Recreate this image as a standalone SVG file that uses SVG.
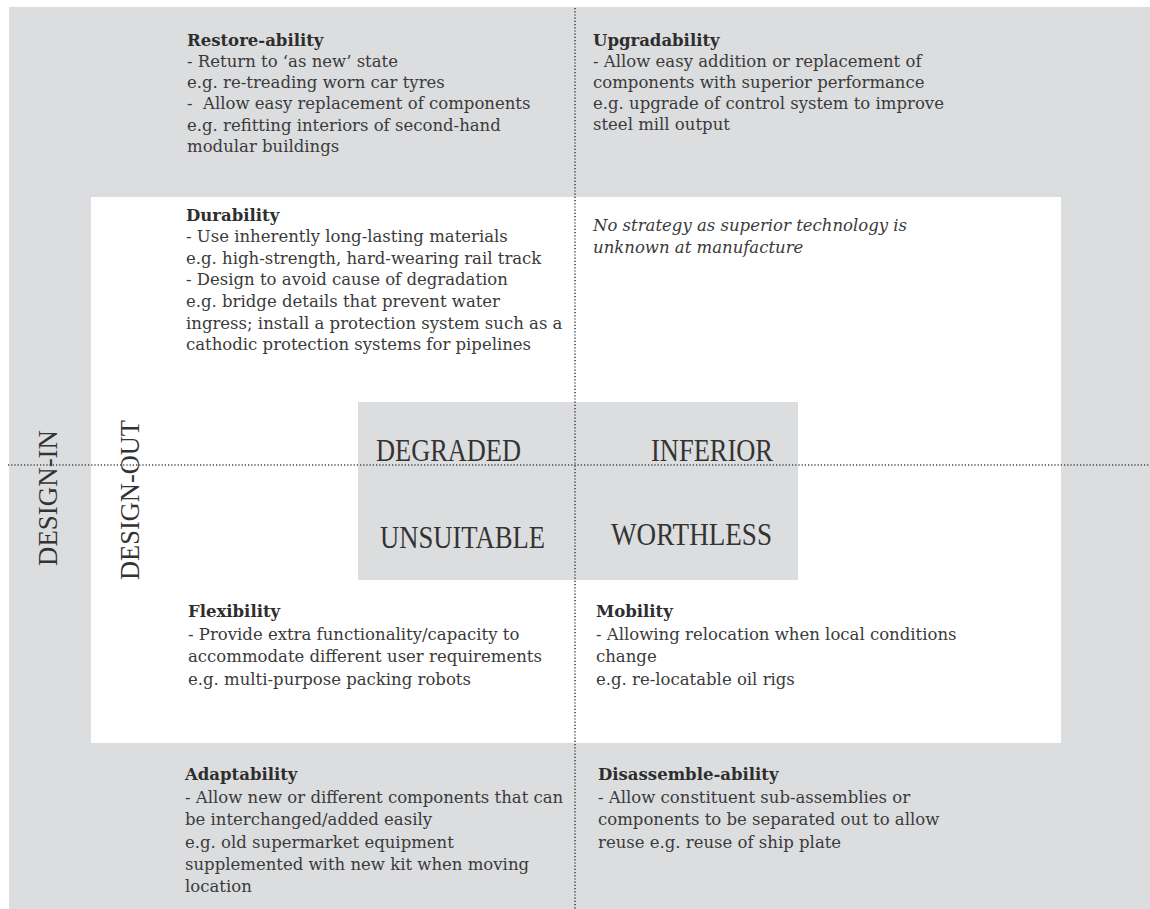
<svg xmlns="http://www.w3.org/2000/svg" width="1150" height="909" viewBox="0 0 1150 909">
<style>
.bg{fill:#dcdddf}
.wh{fill:#ffffff}
.t{font-family:"DejaVu Serif","Liberation Serif",serif;font-size:16.5px;fill:#3a3a3a}
.b{font-weight:bold;fill:#2e2e2e}
.i{font-style:italic}
.big{font-family:"Liberation Serif","Times New Roman",serif;font-size:32px;fill:#333333}
.dot{stroke:#444444;stroke-width:1.6;stroke-dasharray:1.2 2;fill:none}
</style>
<rect x="0" y="0" width="1150" height="909" fill="#ffffff"/>
<rect class="bg" x="9" y="7" width="1141" height="902"/>
<rect class="wh" x="91" y="197" width="970" height="546"/>
<g id="center">
<rect class="bg" x="358" y="402" width="440" height="178"/>
</g>
<g id="connectors">
<line class="dot" x1="575" y1="8" x2="575" y2="909"/>
<line class="dot" x1="8" y1="465" x2="1150" y2="465"/>
</g>
<g id="design-in"><text class="big" transform="translate(57,498) rotate(-90)" text-anchor="middle" textLength="136" lengthAdjust="spacingAndGlyphs" style="font-size:28px">DESIGN-IN</text></g>
<g id="design-out"><text class="big" transform="translate(139,500) rotate(-90)" text-anchor="middle" textLength="160" lengthAdjust="spacingAndGlyphs" style="font-size:28px">DESIGN-OUT</text></g>
<g id="degraded"><text class="big" x="376" y="461" textLength="145" lengthAdjust="spacingAndGlyphs">DEGRADED</text></g>
<g id="inferior"><text class="big" x="651" y="461" textLength="122" lengthAdjust="spacingAndGlyphs">INFERIOR</text></g>
<g id="unsuitable"><text class="big" x="380" y="548" textLength="165" lengthAdjust="spacingAndGlyphs">UNSUITABLE</text></g>
<g id="worthless"><text class="big" x="611" y="545" textLength="161" lengthAdjust="spacingAndGlyphs">WORTHLESS</text></g>
<g id="restore-ability">
<text class="t b" x="187" y="46">Restore-ability</text>
<text class="t" x="187" y="67">- Return to ‘as new’ state</text>
<text class="t" x="187" y="88">e.g. re-treading worn car tyres</text>
<text class="t" x="187" y="109" xml:space="preserve">-  Allow easy replacement of components</text>
<text class="t" x="187" y="131">e.g. refitting interiors of second-hand</text>
<text class="t" x="187" y="152">modular buildings</text>
</g>
<g id="upgradability">
<text class="t b" x="593" y="46">Upgradability</text>
<text class="t" x="593" y="67">- Allow easy addition or replacement of</text>
<text class="t" x="593" y="88">components with superior performance</text>
<text class="t" x="593" y="109">e.g. upgrade of control system to improve</text>
<text class="t" x="593" y="130">steel mill output</text>
</g>
<g id="durability">
<text class="t b" x="186" y="221">Durability</text>
<text class="t" x="186" y="242">- Use inherently long-lasting materials</text>
<text class="t" x="186" y="264">e.g. high-strength, hard-wearing rail track</text>
<text class="t" x="186" y="285">- Design to avoid cause of degradation</text>
<text class="t" x="186" y="307">e.g. bridge details that prevent water</text>
<text class="t" x="186" y="329">ingress; install a protection system such as a</text>
<text class="t" x="186" y="350">cathodic protection systems for pipelines</text>
</g>
<g id="no-strategy">
<text class="t i" x="593" y="231">No strategy as superior technology is</text>
<text class="t i" x="593" y="253">unknown at manufacture</text>
</g>
<g id="flexibility">
<text class="t b" x="188" y="617">Flexibility</text>
<text class="t" x="188" y="640">- Provide extra functionality/capacity to</text>
<text class="t" x="188" y="662">accommodate different user requirements</text>
<text class="t" x="188" y="685">e.g. multi-purpose packing robots</text>
</g>
<g id="mobility">
<text class="t b" x="596" y="617">Mobility</text>
<text class="t" x="596" y="640">- Allowing relocation when local conditions</text>
<text class="t" x="596" y="662">change</text>
<text class="t" x="596" y="685">e.g. re-locatable oil rigs</text>
</g>
<g id="adaptability">
<text class="t b" x="185" y="780">Adaptability</text>
<text class="t" x="185" y="803">- Allow new or different components that can</text>
<text class="t" x="185" y="825">be interchanged/added easily</text>
<text class="t" x="185" y="848">e.g. old supermarket equipment</text>
<text class="t" x="185" y="870">supplemented with new kit when moving</text>
<text class="t" x="185" y="892">location</text>
</g>
<g id="disassemble-ability">
<text class="t b" x="598" y="780">Disassemble-ability</text>
<text class="t" x="598" y="803">- Allow constituent sub-assemblies or</text>
<text class="t" x="598" y="825">components to be separated out to allow</text>
<text class="t" x="598" y="848">reuse e.g. reuse of ship plate</text>
</g>
</svg>
